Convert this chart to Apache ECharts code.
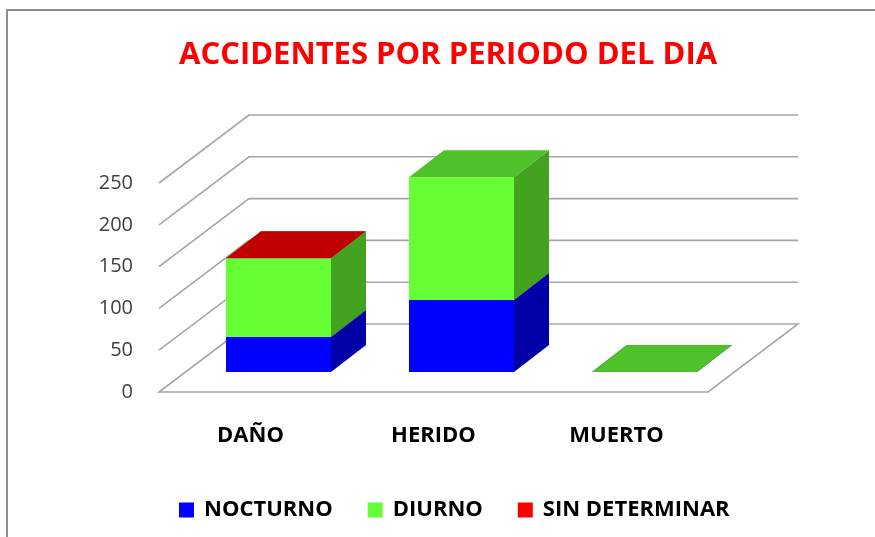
<!DOCTYPE html>
<html>
<head>
<meta charset="utf-8">
<script src="https://cdn.jsdelivr.net/npm/echarts@6/dist/echarts.min.js"></script>
<style>
  html, body { margin: 0; padding: 0; background: #fff; }
  #main { width: 875px; height: 537px; }
</style>
</head>
<body>
<div id="main"></div>
<script>
// datos
const categorias = ['DAÑO', 'HERIDO', 'MUERTO'];
const nocturno = [42, 86, 0];
const diurno = [94, 147, 0];
const sinDeterminar = [0, null, null];
const ticksY = [0, 50, 100, 150, 200, 250];

// profundidad del piso / paredes y de las barras (px)
const DX = 90, DY = -68;
const OX = 28, OY = -20;   // cara frontal de la barra
const BX = 35, BY = -27;   // fondo de la barra
const BAR = 0.574;

const colores = {
  'NOCTURNO': { front: '#0000FF', side: '#0000A6', top: '#0000CC' },
  'DIURNO': { front: '#66FF33', side: '#43A321', top: '#4FC22A' },
  'SIN DETERMINAR': { front: '#FF0000', side: '#A00000', top: '#C00000' }
};

const chart = echarts.init(document.getElementById('main'), null, { renderer: 'canvas' });

// apila las series: [categoria, base, tope]
const apilar = (listas) => {
  const bases = categorias.map(() => 0);
  return listas.map(lista => lista.map((v, i) => {
    if (v == null) return [i, null, null];
    const item = [i, bases[i], bases[i] + v];
    bases[i] += v;
    return item;
  }));
};
const apiladas = apilar([nocturno, diurno, sinDeterminar]);

const paredes = (params, api) => {
  const v = api.value(1);
  const band = api.size([1, 0])[0];
  const xl = api.coord([0, v])[0] - band / 2;
  const xr = api.coord([categorias.length - 1, v])[0] + band / 2;
  const y = api.coord([0, v])[1];
  const estilo = { stroke: '#A6A6A6', lineWidth: 1.6, fill: null };
  if (v === 0) {
    return {
      type: 'polygon',
      shape: { points: [[xl, y], [xr, y], [xr + DX, y + DY], [xl + DX, y + DY]] },
      style: estilo
    };
  }
  return {
    type: 'polyline',
    shape: { points: [[xl, y], [xl + DX, y + DY], [xr + DX, y + DY]] },
    style: estilo
  };
};

const caja = (nombre) => (params, api) => {
  const base = api.value(1), tope = api.value(2);
  if (isNaN(base) || isNaN(tope)) return null;
  const c = colores[nombre];
  const p0 = api.coord([api.value(0), base]);
  const p1 = api.coord([api.value(0), tope]);
  const w = api.size([1, 0])[0] * BAR;
  const xl = p0[0] + OX - w / 2, xr = p0[0] + OX + w / 2;
  const yb = p0[1] + OY, yt = p1[1] + OY;
  return {
    type: 'group',
    children: [
      { type: 'rect', shape: { x: xl, y: yt, width: w, height: yb - yt }, style: { fill: c.front } },
      { type: 'polygon', shape: { points: [[xr, yb], [xr + BX, yb + BY], [xr + BX, yt + BY], [xr, yt]] }, style: { fill: c.side } },
      { type: 'polygon', shape: { points: [[xl, yt], [xr, yt], [xr + BX, yt + BY], [xl + BX, yt + BY]] }, style: { fill: c.top } }
    ]
  };
};

const nombres = ['NOCTURNO', 'DIURNO', 'SIN DETERMINAR'];

chart.setOption({
  animation: false,
  backgroundColor: '#fff',
  title: {
    text: 'ACCIDENTES POR PERIODO DEL DIA',
    left: 174, top: 35,
    textStyle: { color: '#FF0000', fontFamily: 'Open Sans', fontWeight: 'bold', fontSize: 31 }
  },
  graphic: [{
    type: 'rect', silent: true,
    shape: { x: 7, y: 10, width: 880, height: 540 },
    style: { fill: null, stroke: '#8C8C8C', lineWidth: 2 }
  }],
  legend: {
    data: nombres,
    top: 494, left: 174,
    icon: 'rect', itemWidth: 15, itemHeight: 15, itemGap: 35,
    textStyle: { color: '#000', fontFamily: 'Open Sans', fontWeight: 'bold', fontSize: 22, padding: [0, 0, 0, 5] }
  },
  grid: { left: 159, right: 167, top: 183, bottom: 145 },
  xAxis: {
    type: 'category', data: categorias,
    axisLine: { show: false }, axisTick: { show: false },
    axisLabel: { margin: 33, color: '#000', fontFamily: 'Open Sans', fontWeight: 'bold', fontSize: 22 }
  },
  yAxis: {
    type: 'value', min: 0, max: 250, interval: 50,
    axisLine: { show: false }, axisTick: { show: false }, splitLine: { show: false },
    axisLabel: { margin: 26, color: '#404040', fontFamily: 'Open Sans', fontSize: 20 }
  },
  series: [
    {
      type: 'custom', name: 'paredes', clip: false, silent: true,
      renderItem: paredes,
      encode: { x: 0, y: 1 },
      data: ticksY.map(v => [0, v])
    }
  ].concat(nombres.map((n, k) => ({
    type: 'custom', name: n, clip: false,
    itemStyle: { color: colores[n].front },
    renderItem: caja(n),
    encode: { x: 0, y: 2 },
    data: apiladas[k]
  })))
});
</script>
</body>
</html>
